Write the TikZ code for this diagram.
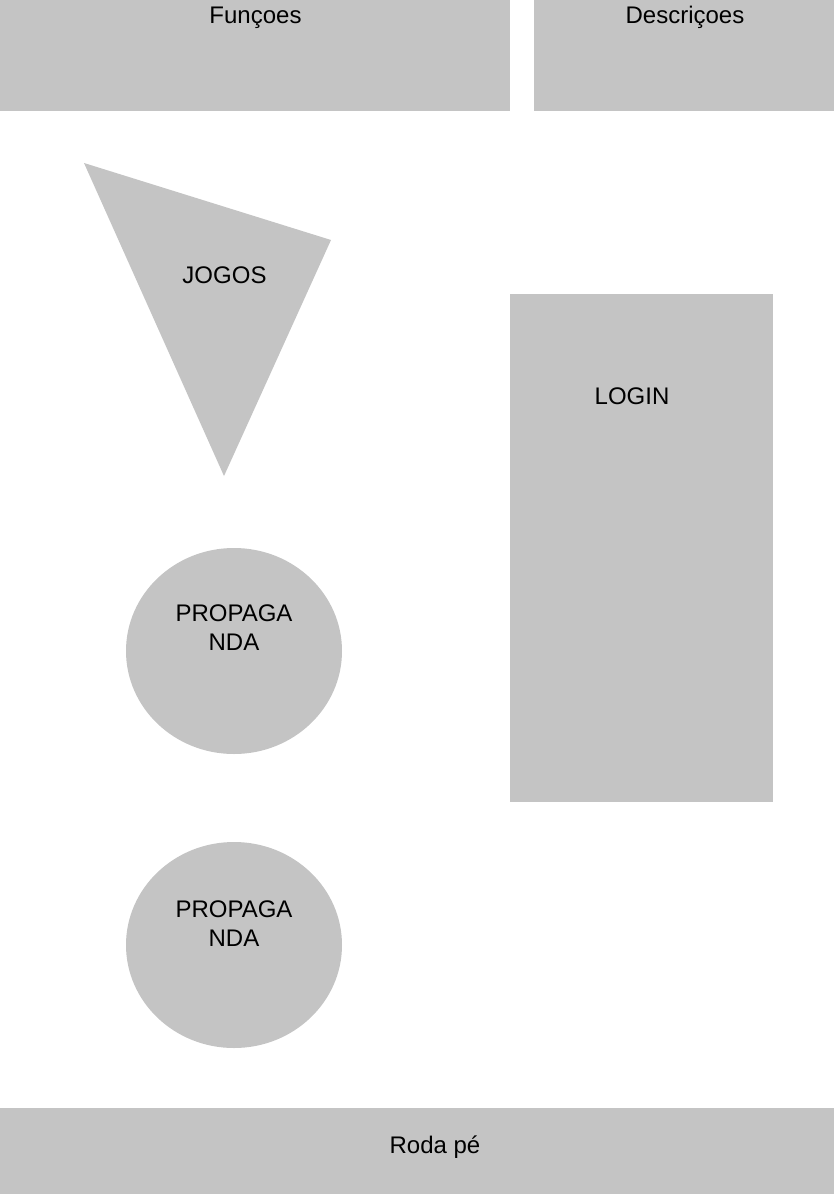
\documentclass[tikz,border=0pt]{standalone}
\usepackage{fontspec}
\setmainfont{Liberation Sans}
\definecolor{boxgray}{HTML}{C4C4C4}
\begin{document}
\begin{tikzpicture}[x=1pt,y=-1pt,
  shapefill/.style={fill=boxgray},
  lbl/.style={anchor=base,inner sep=0pt,align=center,text=black,font=\fontsize{24}{29}\selectfont}]
\useasboundingbox (0,0) rectangle (834,1194);
\fill[white] (0,0) rectangle (834,1194);
% top boxes
\fill[shapefill] (0,0) rectangle (510,111);
\fill[shapefill] (534,0) rectangle (834,111);
\node[lbl] (funcoes) at (255.5,23) {Funçoes};
\node[lbl] (descricoes) at (685,23) {Descriçoes};
% triangle
\fill[shapefill] (84,163) -- (331,240) -- (224,476) -- cycle;
\node[lbl] (jogos) at (224.5,283) {JOGOS};
% login
\fill[shapefill] (510,294) rectangle (773,802);
\node[lbl] (login) at (632,404) {LOGIN};
% ellipses
\fill[shapefill] (234,651) ellipse [x radius=108, y radius=103];
\node[lbl] (prop1) at (234,650) {PROPAGA\\NDA};
\fill[shapefill] (234,945) ellipse [x radius=108, y radius=103];
\node[lbl] (prop2) at (234,946) {PROPAGA\\NDA};
% footer
\fill[shapefill] (0,1108) rectangle (834,1194);
\node[lbl] (rodape) at (435,1153) {Roda pé};
\end{tikzpicture}
\end{document}
